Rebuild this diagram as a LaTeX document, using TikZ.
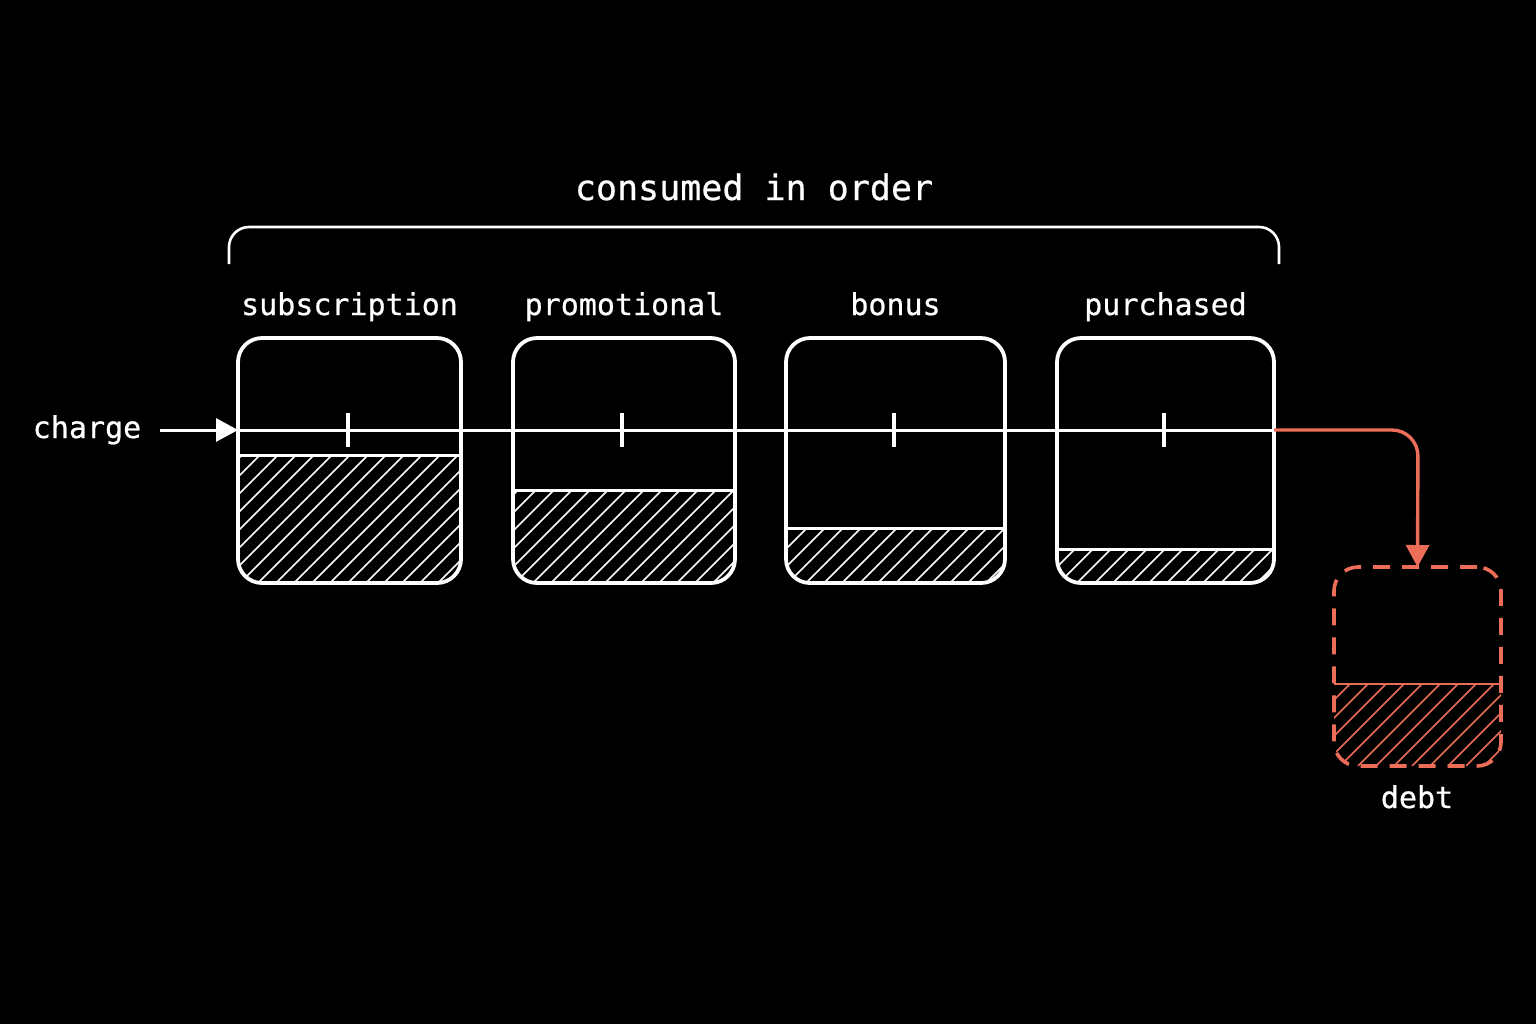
\documentclass[tikz,border=0pt]{standalone}
\usepackage{fontspec}
\setmainfont{DejaVu Sans Mono}
\newfontfamily\lblfont[FakeBold=0.6]{DejaVu Sans Mono}
\usetikzlibrary{arrows.meta}
\definecolor{debtred}{RGB}{236,110,88}
\tikzset{
 bucketbox/.style={draw=white, line width=1.9pt, rounded corners=12pt, inner sep=0pt, outer sep=0pt, minimum height=122.5pt},
 debtbox/.style={draw=debtred, line width=1.8pt, rounded corners=12pt, inner sep=0pt, outer sep=0pt, dash pattern=on 8.5pt off 6pt},
 hatchline/.style={white, line width=0.85pt},
 redhatch/.style={debtred, line width=0.85pt},
 flow/.style={white, line width=1.5pt},
 levelline/.style={white, line width=1.5pt},
 lbl/.style={text=white, font=\lblfont\fontsize{15}{18}\selectfont, anchor=base},
 titlelbl/.style={text=white, font=\lblfont\fontsize{17.5}{20}\selectfont, anchor=base},
 tip/.style={-{Triangle[length=11pt,width=11.5pt]}},
}
\newcommand\drawbucket[6]{%
 \node[bucketbox, minimum width={(#3-#2)*0.5pt}] (#1) at ({(#2+#3)/2},460.5) {};
 \begin{scope}
  \clip[rounded corners=12pt] (#2,338) rectangle (#3,583);
  \clip (#2,#4) rectangle (#3,583);
  \foreach \k in {0,...,28} \draw[hatchline] ({#2-250+\k*18},583) -- ++(300,-300);
 \end{scope}
 \draw[levelline] (#2,#4) -- (#3,#4);
 \draw[flow, line width=1.6pt] (#5,413) -- (#5,447);
 \node[lbl] (#1l) at ({(#2+#3)/2},315) {#6};
}
\begin{document}
\begin{tikzpicture}[x=0.5pt,y=-0.5pt]
\fill[black] (0,0) rectangle (1536,1024);
\useasboundingbox (0,0) rectangle (1536,1024);

% title and brace
\node[titlelbl] (title) at (754,200) {consumed in order};
\draw[white, line width=1.3pt, rounded corners=10pt] (229,264) -- (229,227) -- (1279,227) -- (1279,264);

% main flow line
\coordinate (in) at (238,430);
\coordinate (out) at (1274,430);
\coordinate (turn) at (1418,430);

\drawbucket{b1}{238}{461}{455}{348}{subscription}
\drawbucket{b2}{513}{735}{490}{622}{promotional}
\drawbucket{b3}{786}{1005}{528}{894}{bonus}
\drawbucket{b4}{1057}{1274}{549}{1164}{purchased}

\draw[flow] (in) -- (out);

% charge
\node[lbl] (charge) at (87,438) {charge};
\draw[flow, tip] (160,430) -- (in);

% debt
\node[debtbox, minimum width=83.5pt, minimum height=99.5pt] (debt) at (1417.5,666.5) {};
\begin{scope}
 \clip[rounded corners=12pt] (1334,567) rectangle (1501,766);
 \clip (1334,684) rectangle (1501,766);
 \foreach \k in {0,...,20} \draw[redhatch] ({1334-120+\k*18},766) -- ++(200,-200);
\end{scope}
\draw[debtred, line width=1.4pt] (1334,684) -- (1501,684);
\node[lbl] (debtl) at (1417,808) {debt};

\draw[debtred, line width=1.7pt, rounded corners=13pt, tip] (out) -- (turn) -- (debt.north);
\end{tikzpicture}
\end{document}
